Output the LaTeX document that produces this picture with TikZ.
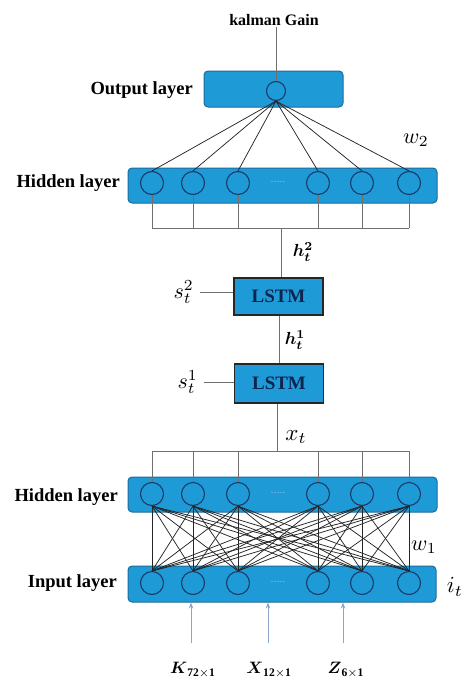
\documentclass[tikz,border=0pt]{standalone}
\usepackage{fontspec}
\setmainfont{Liberation Serif}
\usepackage{amsmath,amssymb,graphicx}
\usetikzlibrary{arrows.meta}
\definecolor{boxblue}{HTML}{1E9BD7}
\definecolor{boxedge}{HTML}{1F6A9C}
\definecolor{navyc}{HTML}{1B3A6B}
\definecolor{lstmtext}{HTML}{0E2450}
\definecolor{treec}{HTML}{707070}
\definecolor{arrc}{HTML}{8AA6CC}
\definecolor{dotc}{HTML}{8FB6D6}
\newcommand{\msc}[2]{\scalebox{#1}{$#2$}}
\begin{document}
\begin{tikzpicture}[x=1pt,y=-1pt,
  layerbox/.style={draw=boxedge, fill=boxblue, rounded corners=4pt, line width=1pt, inner sep=0pt},
  neuron/.style={circle, draw=navyc, line width=1.1pt, fill=boxblue, minimum size=23pt, inner sep=0pt},
  lstmbox/.style={draw=black!85, fill=boxblue, line width=1.2pt, minimum width=89pt, inner sep=0pt,
     font=\fontsize{19}{22}\selectfont\bfseries, text=lstmtext},
  lbl/.style={font=\fontsize{18.5}{22}\selectfont\bfseries, anchor=east, inner sep=0pt},
  mlbl/.style={inner sep=0pt},
  treeline/.style={draw=treec, line width=1pt},
  fanline/.style={draw=black!85, line width=0.75pt},
  inarrow/.style={draw=arrc, line width=1pt, -{Stealth[length=6pt,width=4.5pt]}},
  dotsnode/.style={text=dotc, font=\fontsize{12}{12}\selectfont, inner sep=0pt}]
\useasboundingbox (0,0) rectangle (463,681);

% layer boxes
\node[layerbox, minimum width=139pt, minimum height=36pt] (outbox) at (273.5,89) {};
\node[layerbox, minimum width=309pt, minimum height=35pt] (hidA) at (282.5,185.5) {};
\node[layerbox, minimum width=309pt, minimum height=35pt] (hidB) at (282.5,494.5) {};
\node[layerbox, minimum width=308pt, minimum height=36pt] (inbox) at (282,584) {};

% LSTM boxes
\node[lstmbox, minimum height=37pt] (lstmB) at (278.5,296.5) {LSTM};
\node[lstmbox, minimum height=39pt] (lstmA) at (279,383.5) {LSTM};

% layer labels
\node[lbl] (lout) at (193,90) {Output layer};
\node[lbl] (lhA) at (120,183) {Hidden layer};
\node[lbl] (lhB) at (118,497) {Hidden layer};
\node[lbl] (lin) at (117,583) {Input layer};

% output neuron and kalman gain
\node[font=\fontsize{16}{18}\selectfont\bfseries, inner sep=1pt] (kg) at (274,20) {kalman Gain};
\node[neuron, minimum size=19pt] (o) at (276,91) {};
\draw[treeline] (o.north |- kg.south) -- (o.north);

% neurons
\foreach \i/\x in {1/152,2/193,3/238,4/318,5/362,6/409}{
  \node[neuron] (ha\i) at (\x,183) {};
  \node[neuron] (hb\i) at (\x,494) {};
  \node[neuron] (in\i) at (\x,583) {};
}
\node[dotsnode] (dA) at (278,182) {.....};
\node[dotsnode] (dB) at (278,493) {.....};
\node[dotsnode] (dC) at (278,582) {.....};

% fan from output to hidden A
\foreach \i in {1,...,6}{
  \draw[fanline] (o.south) -- (ha\i.north);
}

% tree below hidden A
\coordinate (treeA) at (281,228);
\foreach \i in {1,...,6}{
  \draw[treeline] (ha\i.south) -- (ha\i.south |- treeA);
}
\draw[treeline] (ha1.south |- treeA) -- (ha6.south |- treeA);
\draw[treeline] (treeA) -- (treeA |- lstmB.north);

% LSTM chain
\coordinate (sB) at (200,292);
\coordinate (sA) at (204,382);
\draw[treeline] (sB) -- (sB -| lstmB.west);
\draw[treeline] (sA) -- (sA -| lstmA.west);
\draw[treeline] (lstmA.north) -- (lstmA.north |- lstmB.south);

% tree above hidden B
\coordinate (treeB) at (277,451);
\draw[treeline] (lstmA.south -| treeB) -- (treeB);
\draw[treeline] (hb1.north |- treeB) -- (hb6.north |- treeB);
\foreach \i in {1,...,6}{
  \draw[treeline] (hb\i.north |- treeB) -- (hb\i.north);
}

% full connections hidden B <-> input
\foreach \i in {1,...,6}{
  \foreach \j in {1,...,6}{
    \draw[fanline] (hb\i.south) -- (in\j.north);
  }
}

% math labels
\node[mlbl] (w2) at (416,140) {\msc{2.2}{w_2}};
\node[mlbl] (w1) at (424,547) {\msc{2.2}{w_1}};
\node[mlbl] (it) at (455,587) {\msc{2.3}{i_t}};
\node[mlbl, anchor=east] (s2) at (194,292) {\msc{2.2}{s_t^2}};
\node[mlbl, anchor=east] (s1) at (198,382) {\msc{2.2}{s_t^1}};
\node[mlbl] (h2) at (303,252) {\msc{1.75}{\boldsymbol{h_t^2}}};
\node[mlbl] (h1) at (295,340) {\msc{1.75}{\boldsymbol{h_t^1}}};
\node[mlbl] (xt) at (296,437) {\msc{2.3}{x_t}};

% inputs
\node[mlbl] (K) at (193,670) {\msc{1.65}{\boldsymbol{K}_{\mathbf{72\times1}}}};
\node[mlbl] (X) at (269,670) {\msc{1.65}{\boldsymbol{X}_{\mathbf{12\times1}}}};
\node[mlbl] (Z) at (346,670) {\msc{1.65}{\boldsymbol{Z}_{\mathbf{6\times1}}}};
\coordinate (aK) at (191,643);
\coordinate (aX) at (268,643);
\coordinate (aZ) at (343,643);
\draw[inarrow] (aK) -- (aK |- inbox.south);
\draw[inarrow] (aX) -- (aX |- inbox.south);
\draw[inarrow] (aZ) -- (aZ |- inbox.south);
\end{tikzpicture}
\end{document}
